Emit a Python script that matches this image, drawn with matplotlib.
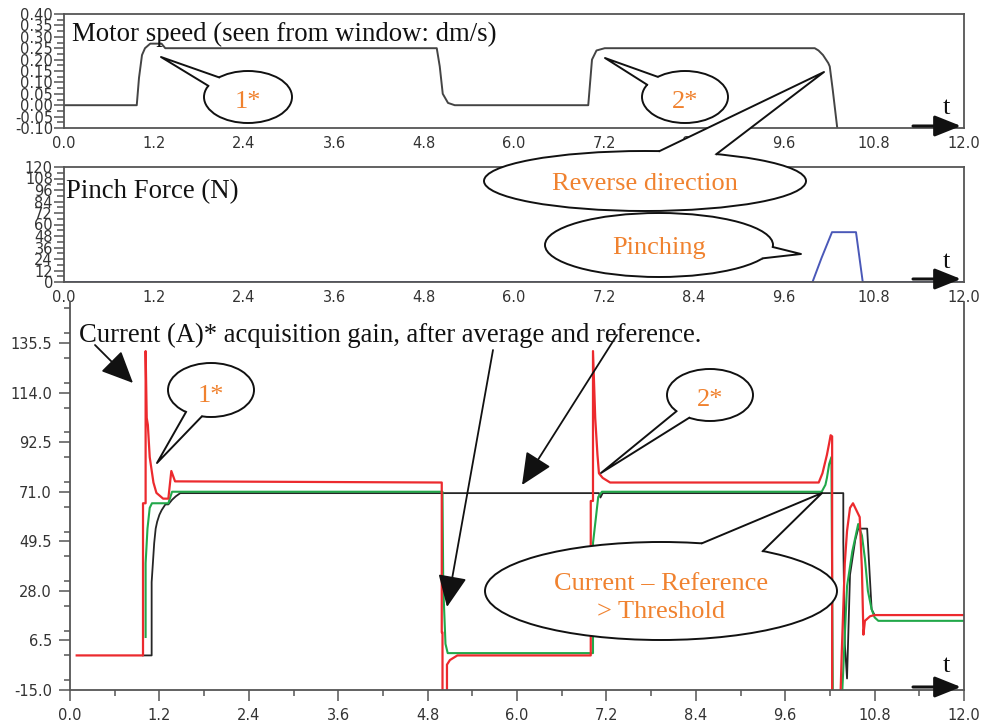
import numpy as np
import matplotlib
matplotlib.use('Agg')
import matplotlib.pyplot as plt
from matplotlib.patches import Ellipse, Polygon
from matplotlib.ticker import MultipleLocator, FormatStrFormatter

# motor speed seen from the window (dm/s)
t_speed = [0.0, 0.97, 1.0, 1.04, 1.08, 1.15, 1.3, 1.35, 4.97, 5.01, 5.05, 5.12, 5.21,
           6.99, 7.04, 7.1, 7.21, 10.01, 10.06, 10.12, 10.19, 10.21, 10.25, 10.31, 10.34]
speed = [0.0, 0.0, 0.12, 0.22, 0.25, 0.27, 0.27, 0.25, 0.25, 0.17, 0.05, 0.01, 0.0,
         0.0, 0.20, 0.24, 0.25, 0.25, 0.24, 0.22, 0.185, 0.17, 0.067, -0.10, -0.15]

# pinch force (N)
t_pinch = [0.0, 9.98, 10.1, 10.24, 10.56, 10.65, 12.0]
force = [0, 0, 25, 52, 52, 0, 0]

# current (A): raw, averaged, reference
t_red = [0.09, 0.98, 0.98, 1.015, 1.015, 1.03, 1.045, 1.07, 1.12, 1.16, 1.25, 1.32, 1.36, 1.41,
         4.99, 4.99, 5.0, 5.0, 5.06, 5.06, 5.1, 5.15, 5.2, 6.99, 6.99, 7.02, 7.02, 7.05, 7.08,
         7.1, 7.15, 7.25, 10.05, 10.1, 10.16, 10.19, 10.21, 10.23, 10.23, 10.34, 10.36, 10.4,
         10.43, 10.47, 10.51, 10.6, 10.63, 10.65, 10.67, 10.74, 10.8, 12.0]
red = [0, 0, 66, 66, 132, 103, 100, 86, 75, 70.5, 68, 68, 80, 75.5,
       75, 10, 10, -20, -20, -4, -2, -1, 0, 0, 67, 67, 132, 103, 87,
       79, 77, 75, 75, 79, 87, 92, 95.5, 95, -20, -20, 2, 40,
       54, 64, 66, 60, 37, 9, 15, 17, 17.5, 17.5]

t_green = [1.015, 1.015, 1.04, 1.07, 1.1, 1.32, 1.37, 5.0, 5.01, 5.04, 5.07, 7.02, 7.02, 7.06,
           7.09, 7.14, 10.09, 10.14, 10.16, 10.19, 10.22, 10.24, 10.36, 10.43, 10.5, 10.58,
           10.63, 10.67, 10.71, 10.76, 10.8, 10.85, 12.0]
green = [8, 40, 55, 64, 66, 66, 71, 71, 30, 5, 1, 1, 48.7, 60,
         68.7, 71, 71, 74, 77, 83, 86, -20, -20, 30, 45, 57,
         52, 42, 28, 20, 16.5, 15, 15]

t_black = [0.98, 1.096, 1.096, 1.13, 1.15, 1.17, 1.2, 1.23, 1.28, 1.32, 1.37, 1.42, 1.48,
           7.1, 7.12, 7.15, 10.38, 10.38, 10.4, 10.43, 10.47, 10.54, 10.58, 10.7, 10.76, 10.8, 12.0]
black = [0, 0, 31.8, 48.7, 55, 58, 61, 63, 65.5, 65.5, 67.5, 69, 70.4,
         70.4, 68.5, 70.4, 70.4, 49, 5, -10, 35, 50, 55, 55, 20, 17.5, 17.5]

W, H = 985, 722
serif = 'Liberation Serif'
orange = '#f0822f'
spine_c = '#555555'
tick_kw = dict(labelsize=10.5, labelcolor='#333333', color=spine_c)

fig = plt.figure(figsize=(W / 100, H / 100), dpi=100)


def frac(x0, y0, x1, y1):
    # pixel box -> figure fraction
    return [x0 / W, 1 - y1 / H, (x1 - x0) / W, (y1 - y0) / H]


ax1 = fig.add_axes(frac(64, 14, 964, 128))
ax2 = fig.add_axes(frac(64, 167, 964, 282))
ax3 = fig.add_axes(frac(70, 302, 964, 690))

ax1.plot(t_speed, speed, color='#444444', lw=1.4)
ax1.set_ylim(-0.10, 0.40)
ax1.yaxis.set_major_locator(MultipleLocator(0.05))
ax1.yaxis.set_minor_locator(MultipleLocator(0.025))
ax1.yaxis.set_major_formatter(FormatStrFormatter('%.2f'))

ax2.plot(t_pinch, force, color='#4a58b8', lw=1.4)
ax2.set_ylim(0, 120)
ax2.yaxis.set_major_locator(MultipleLocator(12))
ax2.yaxis.set_minor_locator(MultipleLocator(6))

for ax in (ax1, ax2):
    ax.set_xlim(0, 12)
    ax.xaxis.set_major_locator(MultipleLocator(1.2))
    ax.xaxis.set_major_formatter(FormatStrFormatter('%.1f'))
    ax.tick_params(axis='x', length=0, pad=6, **tick_kw)
    ax.tick_params(axis='y', which='major', length=7, width=1.1, pad=1, **tick_kw)
    ax.tick_params(axis='y', which='minor', length=5, width=1.1, color=spine_c)
    for s in ax.spines.values():
        s.set_color(spine_c)
        s.set_linewidth(1.3)

ax3.plot(t_black, black, color='#262626', lw=1.3, zorder=2)
ax3.plot(t_green, green, color='#22a84a', lw=1.5, zorder=2.1)
ax3.plot(t_red, red, color='#ec2a2e', lw=1.6, zorder=2.2)
ax3.set_xlim(0, 12)
ax3.set_ylim(-15, 153.3)
ax3.xaxis.set_major_locator(MultipleLocator(1.2))
ax3.xaxis.set_minor_locator(MultipleLocator(0.6))
ax3.xaxis.set_major_formatter(FormatStrFormatter('%.1f'))
ax3.yaxis.set_major_locator(MultipleLocator(21.5))
ax3.yaxis.set_minor_locator(MultipleLocator(10.75))
ax3.yaxis.set_major_formatter(FormatStrFormatter('%.1f'))
ax3.set_yticks([-15 + 21.5 * i for i in range(8)])
ax3.tick_params(which='major', length=8, width=1.1, pad=5, **tick_kw)
ax3.tick_params(which='minor', length=4, width=1.1, color=spine_c)
ax3.spines['top'].set_visible(False)
for s in ax3.spines.values():
    s.set_color(spine_c)
    s.set_linewidth(1.3)

# overlay in pixel coordinates for the callouts
ov = fig.add_axes([0, 0, 1, 1], zorder=10)
ov.set_xlim(0, W)
ov.set_ylim(H, 0)
ov.axis('off')
ov.patch.set_alpha(0)


def on_ellipse(cx, cy, a, b, p):
    th = np.arctan2((p[1] - cy) / b, (p[0] - cx) / a)
    return np.array([cx + a * np.cos(th), cy + b * np.sin(th)])


def bubble(cx, cy, a, b, tip, p1, p2, text, ty=None, fs=19):
    b1 = on_ellipse(cx, cy, a, b, p1)
    b2 = on_ellipse(cx, cy, a, b, p2)
    c = np.array([cx, cy])
    i1 = c + (b1 - c) * 0.85
    i2 = c + (b2 - c) * 0.85
    ov.add_patch(Ellipse((cx, cy), 2 * a, 2 * b, fc='white', ec='#111111', lw=1.4, zorder=1))
    ov.add_patch(Polygon([i1, b1, tip, b2, i2], closed=True, fc='white', ec='none', zorder=2))
    ov.plot([b1[0], tip[0], b2[0]], [b1[1], tip[1], b2[1]], color='#111111', lw=1.4, zorder=3)
    ov.text(cx, cy if ty is None else ty, text, color=orange, fontsize=fs, family=serif,
            ha='center', va='center', zorder=4, linespacing=1.4)


bubble(248, 97, 44, 26, (161, 57), (220, 78), (209, 86), '1*', ty=102)
bubble(685, 97, 43, 26, (605, 58), (658, 77), (648, 85), '2*', ty=102)
bubble(645, 181, 161, 30, (824, 72), (660, 150), (722, 152), 'Reverse direction', ty=184)
bubble(659, 245, 114, 32, (801, 254), (772, 247), (760, 258), 'Pinching', ty=248)
bubble(211, 390, 43, 27, (157, 463), (186, 412), (202, 416), '1*', ty=396)
bubble(710, 395, 43, 26, (601, 473), (677, 411), (689, 418), '2*', ty=400)
bubble(661, 591, 176, 49, (822, 493), (703, 542), (763, 551),
       'Current \u2013 Reference\n> Threshold', ty=598)

ov.text(72, 34, 'Motor speed (seen from window: dm/s)', fontsize=19.3, family=serif,
        color='#111111', va='center', ha='left')
ov.text(66, 192, 'Pinch Force (N)', fontsize=19.3, family=serif, color='#111111',
        va='center', ha='left')
ov.text(79, 335, 'Current (A)* acquisition gain, after average and reference.', fontsize=19.2,
        family=serif, color='#111111', va='center', ha='left')

arrow_kw = dict(arrowstyle='-|>,head_length=1.1,head_width=0.5', color='#111111', lw=1.3,
                mutation_scale=18, shrinkA=0, shrinkB=0)
ov.annotate('', xy=(133, 383), xytext=(95, 345), arrowprops=arrow_kw)
ov.annotate('', xy=(447, 607), xytext=(493, 350), arrowprops=arrow_kw)
ov.annotate('', xy=(522, 485), xytext=(617, 335), arrowprops=arrow_kw)

# time arrows
t_kw = dict(arrowstyle='-|>,head_length=1.0,head_width=0.4', color='#111111', lw=2.2,
            mutation_scale=16, shrinkA=0, shrinkB=0)
for ya, yt in [(126, 108), (279, 262), (687, 666)]:
    ov.annotate('', xy=(961, ya), xytext=(913, ya), arrowprops=t_kw)
    ov.text(946, yt, 't', fontsize=19, family=serif, color='#111111', ha='center', va='center')

fig.savefig('out.png', dpi=100)
